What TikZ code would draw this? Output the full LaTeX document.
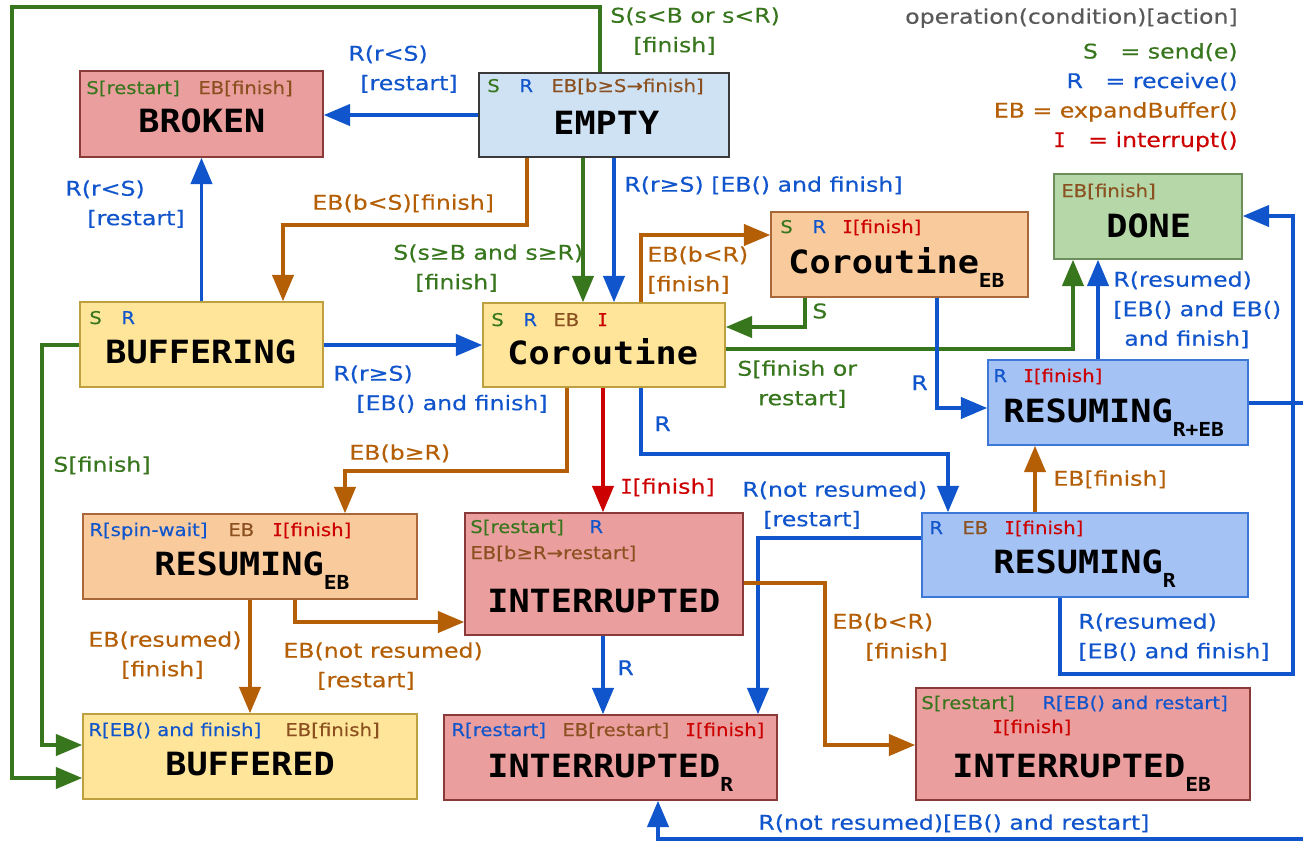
\documentclass[tikz,border=0pt]{standalone}
\usepackage{fontspec}
\usetikzlibrary{arrows.meta,fit}
\newfontfamily\lblfam[FakeStretch=1.17,FakeBold=0.35]{DejaVu Sans}
\newfontfamily\hdrfam[FakeStretch=1.12,FakeBold=0.3]{DejaVu Sans}
\newfontfamily\ttlfam[FakeStretch=1.1]{DejaVu Sans Mono}
\newfontfamily\monofam[FakeBold=0.3]{DejaVu Sans Mono}
\definecolor{cg}{HTML}{38761D}
\definecolor{cb}{HTML}{1155CC}
\definecolor{co}{HTML}{B45F06}
\definecolor{cr}{HTML}{CC0000}
\definecolor{hco}{HTML}{8B5020}
\definecolor{cgray}{HTML}{595959}
\definecolor{fpink}{HTML}{EA9E9E}
\definecolor{bpink}{HTML}{8B3A3A}
\definecolor{flblue}{HTML}{CFE2F3}
\definecolor{blblue}{HTML}{3A3A3A}
\definecolor{fgreen}{HTML}{B6D7A8}
\definecolor{bgreen}{HTML}{6B8E5A}
\definecolor{forange}{HTML}{F9CB9C}
\definecolor{borange}{HTML}{A8683A}
\definecolor{fyellow}{HTML}{FFE599}
\definecolor{byellow}{HTML}{BFA040}
\definecolor{fblue}{HTML}{A4C2F4}
\definecolor{bblue}{HTML}{3C78D8}
\newcommand\mysub[1]{\raisebox{-8.5pt}{\fontsize{11}{11}\selectfont #1}}
\newcommand\serI{{\monofam I}}
\newcommand\hd[5]{\node[hdr,text=#4] (#1) at (#2,#3) {#5};}
\begin{document}
\begin{tikzpicture}[x=0.02cm,y=-0.02cm,
  box/.style={draw, line width=0.8pt, inner sep=0pt},
  hdr/.style={anchor=base west, inner sep=0pt, font=\hdrfam\fontsize{10}{12}\selectfont},
  ttl/.style={anchor=base west, inner sep=0pt, text=black, font=\ttlfam\bfseries\fontsize{18.2}{20}\selectfont},
  lbl/.style={anchor=north west, inner sep=0pt, align=left, font=\lblfam\fontsize{11.5}{16.8}\selectfont},
  conn/.style={line width=2.2pt, line join=miter, -{Triangle[length=15pt,width=12pt]}},
  gar/.style={conn, draw=cg, color=cg},
  bar/.style={conn, draw=cb, color=cb},
  oar/.style={conn, draw=co, color=co},
  rar/.style={conn, draw=cr, color=cr}]
\useasboundingbox (0,0) rectangle (1303,843);

% ---------- boxes ----------
\node[box, fill=fpink, draw=bpink, fit={(80,71)(323,157)}] (bro) {};
\node[box, fill=flblue, draw=blblue, fit={(479,73)(729,157)}] (emp) {};
\node[box, fill=fgreen, draw=bgreen, fit={(1054,174)(1242,259)}] (don) {};
\node[box, fill=forange, draw=borange, fit={(771,212)(1028,297)}] (ceb) {};
\node[box, fill=fyellow, draw=byellow, fit={(80,302)(323,387)}] (bfg) {};
\node[box, fill=fyellow, draw=byellow, fit={(483,303)(725,387)}] (cor) {};
\node[box, fill=fblue, draw=bblue, fit={(988,360)(1248,445)}] (rre) {};
\node[box, fill=forange, draw=borange, fit={(83,514)(417,599)}] (reb) {};
\node[box, fill=fpink, draw=bpink, fit={(465,513)(743,635)}] (int) {};
\node[box, fill=fblue, draw=bblue, fit={(922,513)(1248,597)}] (rr) {};
\node[box, fill=fyellow, draw=byellow, fit={(83,714)(417,799)}] (bfd) {};
\node[box, fill=fpink, draw=bpink, fit={(444,715)(777,800)}] (ir) {};
\node[box, fill=fpink, draw=bpink, fit={(916,688)(1250,800)}] (ieb) {};

% ---------- connectors ----------
\draw[gar] (600,0 |- emp.north) -- (600,7) -- (12,7) -- (12,778) -- (bfd.west |- 0,778);
\draw[gar] (bfg.west |- 0,345) -- (42,345) -- (42,745) -- (bfd.west |- 0,745);
\draw[bar] (emp.west |- 0,115) -- (bro.east |- 0,115);
\draw[bar] (bfg) -- (bro);
\draw[oar] (527,0 |- emp.south) -- (527,225) -- (283,225) -- (283,0 |- bfg.north);
\draw[gar] (583,0 |- emp.south) -- (583,0 |- cor.north);
\draw[bar] (614,0 |- emp.south) -- (614,0 |- cor.north);
\draw[oar] (641,0 |- cor.north) -- (641,235) -- (ceb.west |- 0,235);
\draw[gar] (805,0 |- ceb.south) -- (805,327) -- (cor.east |- 0,327);
\draw[gar] (cor.east |- 0,349) -- (1073,349) -- (1073,0 |- don.south);
\draw[bar] (937,0 |- ceb.south) -- (937,408) -- (rre.west |- 0,408);
\draw[bar] (1098,0 |- rre.north) -- (1098,0 |- don.south);
\draw[bar] (1060,0 |- rr.south) -- (1060,674) -- (1293,674) -- (1293,216) -- (don.east |- 0,216);
\draw[bar] (rre.east |- 0,403) -- (1330,403) -- (1330,839) -- (658,839) -- (658,0 |- ir.south);
\draw[bar] (641,0 |- cor.south) -- (641,454) -- (948,454) -- (948,0 |- rr.north);
\draw[rar] (603,0 |- cor.south) -- (603,0 |- int.north);
\draw[oar] (567,0 |- cor.south) -- (567,471) -- (345,471) -- (345,0 |- reb.north);
\draw[bar] (rr.west |- 0,538) -- (758,538) -- (758,0 |- ir.north);
\draw[oar] (250,0 |- reb.south) -- (250,0 |- bfd.north);
\draw[oar] (295,0 |- reb.south) -- (295,622) -- (int.west |- 0,622);
\draw[bar] (603,0 |- int.south) -- (603,0 |- ir.north);
\draw[oar] (int.east |- 0,583) -- (825,583) -- (825,745) -- (ieb.west |- 0,745);
\draw[oar] (1035,0 |- rr.north) -- (1035,0 |- rre.south);
\draw[bar] (bfg.east |- 0,345) -- (cor.west |- 0,345);

% ---------- titles ----------
\node[ttl] (t-bro) at (138,132) {BROKEN};
\node[ttl] (t-emp) at (553,134) {EMPTY};
\node[ttl] (t-don) at (1106,237) {DONE};
\node[ttl] (t-ceb) at (788,273) {Coroutine\mysub{EB}};
\node[ttl] (t-bfg) at (105,363) {BUFFERING};
\node[ttl] (t-cor) at (507,364) {Coroutine};
\node[ttl] (t-rre) at (1003,422) {RESUMING\mysub{R+EB}};
\node[ttl] (t-reb) at (154,575) {RESUMING\mysub{EB}};
\node[ttl] (t-int) at (487,612) {INTERRUPTED};
\node[ttl] (t-rr) at (993,573) {RESUMING\mysub{R}};
\node[ttl] (t-bfd) at (165,775) {BUFFERED};
\node[ttl] (t-ir) at (487,777) {INTERRUPTED\mysub{R}};
\node[ttl] (t-ieb) at (952,777) {INTERRUPTED\mysub{EB}};

% ---------- headers ----------
\hd{h-bro1}{86}{94}{cg}{S[restart]}
\hd{h-bro2}{198}{94}{hco}{EB[finish]}
\hd{h-emp1}{487}{92}{cg}{S}
\hd{h-emp2}{519}{92}{cb}{R}
\hd{h-emp3}{551}{92}{hco}{EB[b≥S→finish]}
\hd{h-don1}{1061}{197}{hco}{EB[finish]}
\hd{h-ceb1}{780}{233}{cg}{S}
\hd{h-ceb2}{812}{233}{cb}{R}
\hd{h-ceb3}{842}{233}{cr}{\serI[finish]}
\hd{h-bfg1}{89}{324}{cg}{S}
\hd{h-bfg2}{121}{324}{cb}{R}
\hd{h-cor1}{491}{326}{cg}{S}
\hd{h-cor2}{523}{326}{cb}{R}
\hd{h-cor3}{553}{326}{hco}{EB}
\hd{h-cor4}{597}{326}{cr}{\serI}
\hd{h-rre1}{993}{382}{cb}{R}
\hd{h-rre2}{1023}{382}{cr}{\serI[finish]}
\hd{h-reb1}{89}{536}{cb}{R[spin-wait]}
\hd{h-reb2}{228}{536}{hco}{EB}
\hd{h-reb3}{272}{536}{cr}{\serI[finish]}
\hd{h-int1}{470}{533}{cg}{S[restart]}
\hd{h-int2}{589}{533}{cb}{R}
\hd{h-int3}{470}{559}{hco}{EB[b≥R→restart]}
\hd{h-rr1}{929}{534}{cb}{R}
\hd{h-rr2}{962}{534}{hco}{EB}
\hd{h-rr3}{1004}{534}{cr}{\serI[finish]}
\hd{h-bfd1}{88}{736}{cb}{R[EB() and finish]}
\hd{h-bfd2}{285}{736}{hco}{EB[finish]}
\hd{h-ir1}{451}{736}{cb}{R[restart]}
\hd{h-ir2}{562}{736}{hco}{EB[restart]}
\hd{h-ir3}{685}{736}{cr}{\serI[finish]}
\hd{h-ieb1}{921}{709}{cg}{S[restart]}
\hd{h-ieb2}{1042}{709}{cb}{R[EB() and restart]}
\hd{h-ieb3}{992}{733}{cr}{\serI[finish]}

% ---------- connector labels ----------
\node[lbl, text=cg] (la) at (610,7) {S(s<B or s<R)\\\hspace*{0.46cm}[finish]};
\node[lbl, text=cb] (lb) at (348,45) {R(r<S)\\\hspace*{0.24cm}[restart]};
\node[lbl, text=cb] (lc) at (65,180) {R(r<S)\\\hspace*{0.44cm}[restart]};
\node[lbl, text=co] (ld) at (312,194) {EB(b<S)[finish]};
\node[lbl, text=cg] (le) at (393,244) {S(s≥B and s≥R)\\\hspace*{0.44cm}[finish]};
\node[lbl, text=cb] (lf) at (624,176) {R(r≥S) [EB() and finish]};
\node[lbl, text=co] (lg) at (647,246) {EB(b<R)\\{}[finish]};
\node[lbl, text=cg] (lh) at (812,303) {S};
\node[lbl, text=cg] (li) at (737,360) {S[finish or\\\hspace*{0.42cm}restart]};
\node[lbl, text=cb] (lj) at (911,375) {R};
\node[lbl, text=cb] (lk) at (1113,271) {R(resumed)\\{}[EB() and EB()\\\hspace*{0.22cm}and finish]};
\node[lbl, text=cb] (ll) at (333,365) {R(r≥S)\\\hspace*{0.46cm}[EB() and finish]};
\node[lbl, text=cg] (lm) at (53,456) {S[finish]};
\node[lbl, text=co] (ln) at (349,444) {EB(b≥R)};
\node[lbl, text=cb] (lo) at (654,416) {R};
\node[lbl, text=cr] (lp) at (620,478) {\serI[finish]};
\node[lbl, text=cb] (lq) at (742,481) {R(not resumed)\\\hspace*{0.42cm}[restart]};
\node[lbl, text=co] (lr) at (1053,470) {EB[finish]};
\node[lbl, text=co] (ls) at (88,631) {EB(resumed)\\\hspace*{0.66cm}[finish]};
\node[lbl, text=co] (lt) at (283,642) {EB(not resumed)\\\hspace*{0.68cm}[restart]};
\node[lbl, text=cb] (lu) at (617,660) {R};
\node[lbl, text=co] (lv) at (832,613) {EB(b<R)\\\hspace*{0.66cm}[finish]};
\node[lbl, text=cb] (lw) at (1078,613) {R(resumed)\\{}[EB() and finish]};
\node[lbl, text=cb] (lx) at (758,814) {R(not resumed)[EB() and restart]};

% ---------- legend ----------
\node[lbl, anchor=north east, align=right] (legend) at (1238,8)
  {\textcolor{cgray}{operation(condition)[action]}\\[3pt]
   \textcolor{cg}{S\ \ \ = send(e)}\\
   \textcolor{cb}{R\ \ \ = receive()}\\
   \textcolor{co}{EB = expandBuffer()}\\
   \textcolor{cr}{\serI\ \ \ = interrupt()}};
\end{tikzpicture}
\end{document}
